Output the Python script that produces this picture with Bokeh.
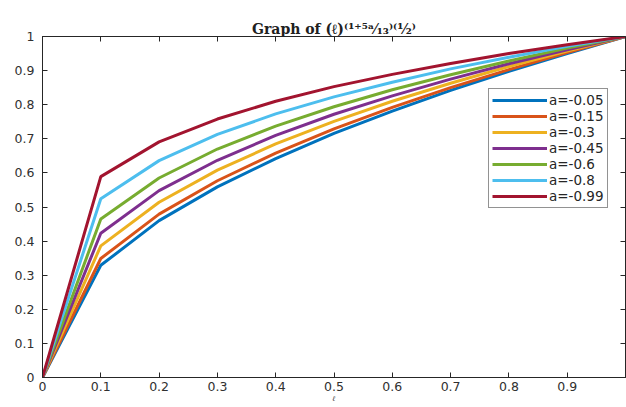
from bokeh.plotting import figure
from bokeh.models import Range1d, FixedTicker, Legend, LegendItem, Title, LinearAxis
from bokeh.embed import file_html
from bokeh.resources import INLINE

x_vals = [0, 0.1, 0.2, 0.3, 0.4, 0.5, 0.6, 0.7, 0.8, 0.9, 1.0]
labels = ["a=-0.05", "a=-0.15", "a=-0.3", "a=-0.45", "a=-0.6", "a=-0.8", "a=-0.99"]
y_a005 = [0, 0.329, 0.460, 0.559, 0.642, 0.716, 0.781, 0.842, 0.898, 0.950, 1.0]
y_a015 = [0, 0.349, 0.479, 0.577, 0.658, 0.729, 0.792, 0.850, 0.903, 0.953, 1.0]
y_a030 = [0, 0.386, 0.514, 0.608, 0.685, 0.751, 0.810, 0.863, 0.912, 0.957, 1.0]
y_a045 = [0, 0.423, 0.548, 0.637, 0.710, 0.772, 0.826, 0.875, 0.920, 0.961, 1.0]
y_a060 = [0, 0.465, 0.585, 0.670, 0.737, 0.794, 0.844, 0.888, 0.928, 0.966, 1.0]
y_a080 = [0, 0.524, 0.636, 0.713, 0.773, 0.823, 0.866, 0.905, 0.939, 0.971, 1.0]
y_a099 = [0, 0.589, 0.691, 0.758, 0.810, 0.853, 0.889, 0.921, 0.950, 0.976, 1.0]
series = [y_a005, y_a015, y_a030, y_a045, y_a060, y_a080, y_a099]
colors = ["#0072BD", "#D95319", "#EDB120", "#7E2F8E", "#77AC30", "#4DBEEE", "#A2142F"]

x_ticks = [0, 0.1, 0.2, 0.3, 0.4, 0.5, 0.6, 0.7, 0.8, 0.9]
y_ticks = [0, 0.1, 0.2, 0.3, 0.4, 0.5, 0.6, 0.7, 0.8, 0.9, 1.0]

title_text = "Graph of (ℓ)⁽¹⁺⁵ᵃ⁄₁₃⁾⁽¹⁄₂⁾"
title = Title(text=title_text, text_font="DejaVu Serif", text_font_style="bold",
              text_font_size="14px", text_color="#202020", align="center",
              offset=0, standoff=0)

p = figure(width=626, height=405, output_backend="svg", toolbar_location=None,
           title=title,
           x_range=Range1d(0, 1), y_range=Range1d(0, 1),
           min_border_left=42, min_border_right=1, min_border_top=36, min_border_bottom=28)

p.xgrid.visible = False
p.ygrid.visible = False
p.outline_line_color = "#262626"
p.outline_line_width = 1
p.background_fill_color = "white"
p.border_fill_color = "white"

bottom_axis = p.below[0]
left_axis = p.left[0]
top_axis = LinearAxis()
right_axis = LinearAxis()
p.add_layout(top_axis, "above")
p.add_layout(right_axis, "right")

for ax, ticks in ((bottom_axis, x_ticks), (left_axis, y_ticks),
                  (top_axis, x_ticks), (right_axis, y_ticks)):
    ax.ticker = FixedTicker(ticks=ticks)
    ax.major_tick_in = 5
    ax.major_tick_out = 0
    ax.minor_tick_line_color = None
    ax.axis_line_color = "#262626"
    ax.major_tick_line_color = "#262626"
    ax.major_label_text_font = "DejaVu Sans"
    ax.major_label_text_font_size = "12.5px"
    ax.major_label_text_color = "#303030"
for ax in (top_axis, right_axis):
    ax.major_label_text_font_size = "0px"
    ax.major_label_standoff = 0
    ax.major_label_text_color = None
    ax.axis_label_standoff = 0

bottom_axis.major_label_standoff = 4
left_axis.major_label_standoff = 8
bottom_axis.major_label_overrides = {0: "0"}
left_axis.major_label_overrides = {0: "0", 1: "1"}
bottom_axis.axis_label = "ℓ"
bottom_axis.axis_label_text_font = "DejaVu Serif"
bottom_axis.axis_label_text_font_style = "italic"
bottom_axis.axis_label_text_font_size = "7px"
bottom_axis.axis_label_text_color = "#303030"
bottom_axis.axis_label_standoff = 1

items = []
for ys, c, lab in zip(series, colors, labels):
    r = p.line(x_vals, ys, line_color=c, line_width=3)
    items.append(LegendItem(label=lab, renderers=[r]))

legend = Legend(items=items, location=(446, 169))
legend.glyph_width = 55
legend.glyph_height = 16
legend.label_height = 16
legend.label_standoff = 2
legend.spacing = 0
legend.padding = 3
legend.margin = 0
legend.label_text_font = "DejaVu Sans"
legend.label_text_font_size = "13.5px"
legend.label_text_color = "#262626"
legend.border_line_color = "#262626"
legend.border_line_width = 1
p.add_layout(legend)

open("out.html", "w").write(file_html(p, INLINE))
